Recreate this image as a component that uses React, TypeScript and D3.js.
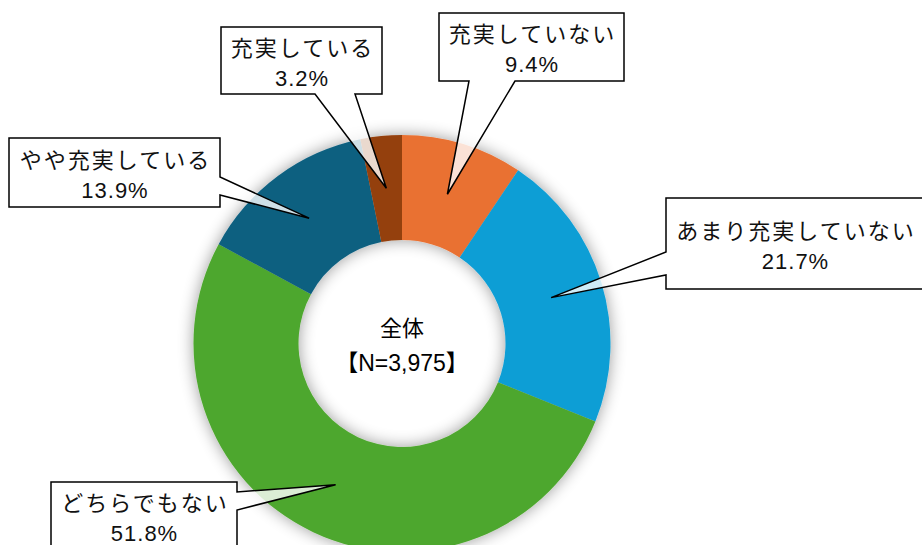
import React from "react";
import * as d3 from "d3";

const categories = ["充実していない", "あまり充実していない", "どちらでもない", "やや充実している", "充実している"];
const values = [9.4, 21.7, 51.8, 13.9, 3.2];
const colors = ["#E97132", "#0F9ED5", "#4EA72E", "#0E6080", "#94400F"];
const centerTitle = "全体";
const centerN = "N=3,975";

type Box = { x: number; y: number; w: number; h: number; side: "bottom" | "left" | "right"; b1: number; b2: number };
const boxes: Box[] = [
  { x: 439, y: 13, w: 185, h: 68, side: "bottom", b1: 469, b2: 515 },
  { x: 666, y: 198, w: 258, h: 91, side: "left", b1: 252, b2: 275 },
  { x: 51, y: 482, w: 186, h: 68, side: "right", b1: 492, b2: 510 },
  { x: 9, y: 138, w: 211, h: 69, side: "right", b1: 177, b2: 195 },
  { x: 221, y: 27, w: 161, h: 67, side: "bottom", b1: 315, b2: 355 },
];

const W = 922, H = 545;
const cx = 402, cy = 343.5, R = 208.5, r = 103.5;
const FONT = "'Liberation Sans', Arial, 'Noto Sans CJK JP', sans-serif";

function calloutPath(b: Box, tip: [number, number]) {
  const { x, y, w, h, side, b1, b2 } = b;
  const [tx, ty] = tip;
  if (side === "bottom") {
    return `M${x},${y}L${x + w},${y}L${x + w},${y + h}L${b2},${y + h}L${tx},${ty}L${b1},${y + h}L${x},${y + h}Z`;
  }
  if (side === "right") {
    return `M${x},${y}L${x + w},${y}L${x + w},${b1}L${tx},${ty}L${x + w},${b2}L${x + w},${y + h}L${x},${y + h}Z`;
  }
  return `M${x},${y}L${x + w},${y}L${x + w},${y + h}L${x},${y + h}L${x},${b2}L${tx},${ty}L${x},${b1}Z`;
}

export default function App() {
  const pie = d3.pie<number>().sort(null).value((d) => d)(values);
  const arc = d3.arc<d3.PieArcDatum<number>>().innerRadius(r).outerRadius(R);
  return (
    <svg width={W} height={H} style={{ position: "absolute", left: 0, top: 0, background: "#fff" }}>
      <defs>
        <filter id="sh" x="-30%" y="-30%" width="160%" height="160%">
          <feGaussianBlur in="SourceAlpha" stdDeviation="8" />
          <feComponentTransfer>
            <feFuncA type="linear" slope="0.4" />
          </feComponentTransfer>
          <feMerge>
            <feMergeNode />
            <feMergeNode in="SourceGraphic" />
          </feMerge>
        </filter>
      </defs>
      <g transform={`translate(${cx},${cy})`} filter="url(#sh)">
        {pie.map((p, i) => (
          <path key={i} d={arc(p) || ""} fill={colors[i]} />
        ))}
      </g>
      <text x={cx} y={cy - 8} textAnchor="middle" fontFamily={FONT} fontSize={22} fill="#000">{centerTitle}</text>
      <text x={cx} y={cy + 27} textAnchor="middle" fontFamily={FONT} fontSize={23} fill="#000">
        <tspan fontFamily="'Noto Sans CJK JP'" dx={0}>【</tspan>
        <tspan>{centerN}</tspan>
        <tspan fontFamily="'Noto Sans CJK JP'">】</tspan>
      </text>
      {pie.map((p, i) => {
        const c = arc.centroid(p);
        const tip: [number, number] = [c[0] + cx, c[1] + cy];
        const b = boxes[i];
        const bx = b.x + b.w / 2;
        const by = b.y + b.h / 2;
        return (
          <g key={"c" + i}>
            <path d={calloutPath(b, tip)} fill="#fff" fillOpacity={0.8} stroke="#000" strokeWidth={1.5} strokeLinejoin="miter" />
            <text x={bx + 1} y={by - 5} textAnchor="middle" fontFamily={FONT} fontSize={22} letterSpacing={2} fill="#111">{categories[i]}</text>
            <text x={bx + 0.5} y={by + 25} textAnchor="middle" fontFamily={FONT} fontSize={22} letterSpacing={1} fill="#111">{values[i].toFixed(1) + "%"}</text>
          </g>
        );
      })}
    </svg>
  );
}
